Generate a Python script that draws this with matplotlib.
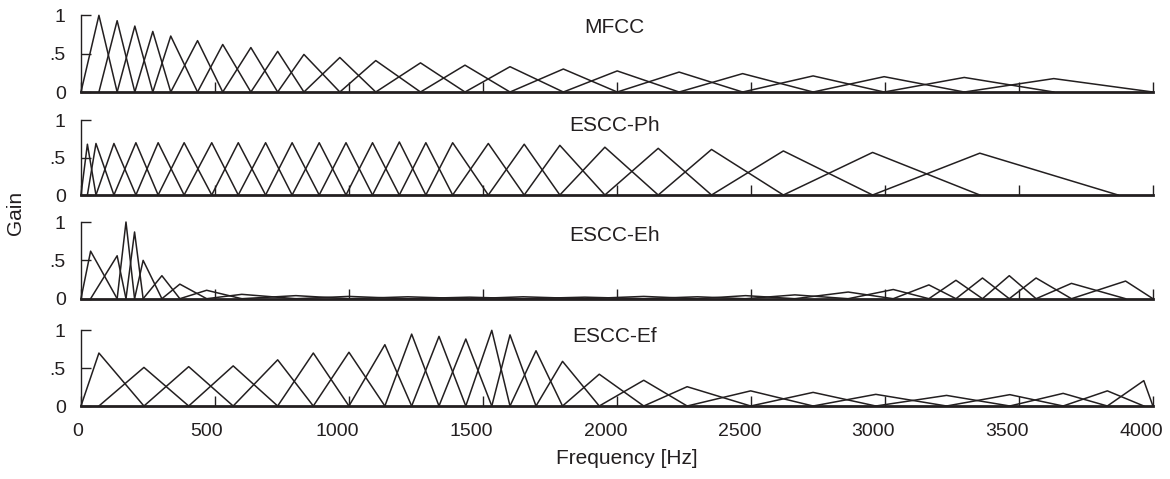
import matplotlib.pyplot as plt
from matplotlib.transforms import ScaledTranslation

plt.rcParams['font.family'] = ['Liberation Sans', 'DejaVu Sans']

# filter centre frequencies (Hz) and peak gains
mfcc_centers = [67, 135, 201, 268, 335, 435, 529, 634, 734, 832, 966, 1100,
                1267, 1433, 1601, 1800, 2001, 2232, 2469, 2732, 2997, 3296, 3630]
mfcc_gains = [1.0, 0.93, 0.86, 0.79, 0.73, 0.67, 0.62, 0.58, 0.53, 0.49, 0.45, 0.41,
              0.38, 0.35, 0.33, 0.30, 0.275, 0.26, 0.24, 0.21, 0.20, 0.19, 0.175]
mfcc_end = 4000

ph_centers = [24, 56, 123, 205, 288, 385, 488, 587, 689, 788, 889, 989, 1088,
              1188, 1287, 1387, 1520, 1654, 1787, 1955, 2154, 2353, 2621, 2954, 3354]
ph_gains = [0.68, 0.69, 0.69, 0.70, 0.70, 0.70, 0.70, 0.70, 0.70, 0.70, 0.70, 0.70, 0.70,
            0.71, 0.70, 0.70, 0.69, 0.68, 0.665, 0.64, 0.625, 0.61, 0.59, 0.57, 0.56]
ph_end = 3870

eh_centers = [36, 135, 168, 200, 232, 302, 369, 469, 600, 802, 1000, 1220, 1450,
              1650, 1880, 2100, 2300, 2480, 2664, 2863, 3031, 3164, 3265, 3364,
              3464, 3564, 3696, 3898]
eh_gains = [0.62, 0.56, 1.0, 0.87, 0.50, 0.30, 0.19, 0.11, 0.057, 0.04, 0.03, 0.025,
            0.02, 0.025, 0.02, 0.03, 0.025, 0.04, 0.05, 0.087, 0.12, 0.18, 0.24, 0.27,
            0.30, 0.27, 0.20, 0.23]
eh_end = 4000

ef_centers = [67, 235, 402, 568, 734, 867, 1000, 1134, 1234, 1336, 1436, 1533, 1601,
              1698, 1797, 1934, 2100, 2262, 2499, 2732, 2966, 3230, 3466, 3665, 3830, 3966]
ef_gains = [0.70, 0.51, 0.52, 0.53, 0.61, 0.70, 0.71, 0.81, 0.95, 0.92, 0.885, 1.0, 0.94,
            0.73, 0.59, 0.42, 0.34, 0.255, 0.20, 0.18, 0.154, 0.14, 0.15, 0.167, 0.20, 0.335]
ef_end = 4000

panels = [
    ("MFCC", mfcc_centers, mfcc_gains, mfcc_end, 0.84),
    ("ESCC-Ph", ph_centers, ph_gains, ph_end, 0.93),
    ("ESCC-Eh", eh_centers, eh_gains, eh_end, 0.83),
    ("ESCC-Ef", ef_centers, ef_gains, ef_end, 0.92),
]

xticks = [0, 500, 1000, 1500, 2000, 2500, 3000, 3500, 4000]
ink = '#231f20'

fig = plt.figure(figsize=(11.7, 4.79), dpi=100)

# axes boxes in figure fractions [left, bottom, width, height]
boxes = [
    [0.0692, 0.8079, 0.9162, 0.1601],
    [0.0692, 0.5929, 0.9162, 0.1559],
    [0.0692, 0.3764, 0.9162, 0.1601],
    [0.0692, 0.1524, 0.9162, 0.1580],
]

for i, (name, centers, gains, end, ty) in enumerate(panels):
    ax = fig.add_axes(boxes[i])
    edges = [0] + centers + [end]
    for k, g in enumerate(gains):
        ax.plot(edges[k:k + 3], [0, g, 0], color=ink, lw=1.1, clip_on=False)

    ax.set_xlim(0, 4000)
    ax.set_ylim(0, 1)
    ax.spines['top'].set_visible(False)
    ax.spines['right'].set_visible(False)
    ax.spines['left'].set_linewidth(1.0)
    ax.spines['bottom'].set_linewidth(2.0)
    ax.spines['left'].set_color(ink)
    ax.spines['bottom'].set_color(ink)

    ax.set_yticks([0, 0.5, 1])
    ax.set_yticklabels(['0', '.5', '1'])
    ax.set_xticks(xticks)
    if i == 3:
        ax.set_xticklabels([str(t) for t in xticks])
    else:
        ax.set_xticklabels([])
    ax.tick_params(axis='both', direction='in', length=7.2, width=1.0,
                   colors=ink, labelsize=14)
    ax.tick_params(axis='y', pad=11)
    ax.tick_params(axis='x', pad=12)

    # the original's frequency labels sit a little left of their ticks
    if i == 3:
        for lab in ax.get_xticklabels():
            shift = -2.9 * len(lab.get_text()) / 100
            lab.set_transform(lab.get_transform() + ScaledTranslation(shift, 0, fig.dpi_scale_trans))

    ax.text(1990, ty, name, ha='center', va='center', fontsize=15, color=ink)

fig.text(0.536, 0.023, 'Frequency [Hz]', ha='center', va='bottom', fontsize=15, color=ink)
fig.text(0.013, 0.555, 'Gain', ha='center', va='center', rotation=90, fontsize=15, color=ink)

plt.savefig('out.png', dpi=100)
